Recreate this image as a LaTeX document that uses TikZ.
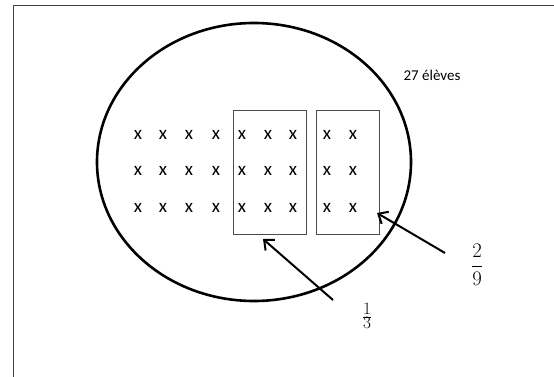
\documentclass[tikz,border=0pt]{standalone}
\usepackage{fontspec}
\setsansfont{Carlito}
\usetikzlibrary{arrows.meta}
\begin{document}
\begin{tikzpicture}[x=1pt,y=-1pt,>={Straight Barb[length=8pt,width=14pt]}]
\useasboundingbox (0,0) rectangle (554,377);
\draw[black!75, line width=1pt] (554,6) -- (13,6) -- (13,377);
\draw[line width=2.6pt] (254,162) ellipse [x radius=157, y radius=139];
\node[font=\sffamily\fontsize{15}{17}\selectfont] (eleves) at (432,75) {27 élèves};
\foreach \c/\xx in {1/138,2/163,3/189,4/216,5/242,6/268,7/293,8/327,9/353}
  \foreach \r/\yy in {1/135,2/171,3/208}
    \node[font=\sffamily\fontsize{19}{19}\selectfont] (x\r\c) at (\xx,\yy) {x};
\node[draw=black!70, line width=0.9pt, minimum width=73pt, minimum height=124pt] (tiers) at (269.5,172) {};
\node[draw=black!70, line width=0.9pt, minimum width=63pt, minimum height=124pt] (deuxneuviemes) at (347.5,172) {};
\node[font=\fontsize{18}{18}\selectfont] (untiers) at (367,316) {$\frac{\textstyle 1}{\textstyle 3}$};
\node[font=\fontsize{21}{21}\selectfont] (deuxneuf) at (477,265) {$\displaystyle\frac{2}{9}$};
\coordinate (queueA) at (333,300);
\coordinate (pointeA) at (263,239);
\coordinate (queueB) at (445,253);
\coordinate (pointeB) at (377,213);
\draw[->, line width=2pt] (queueA) -- (pointeA);
\draw[->, line width=2pt] (queueB) -- (pointeB);
\end{tikzpicture}
\end{document}
